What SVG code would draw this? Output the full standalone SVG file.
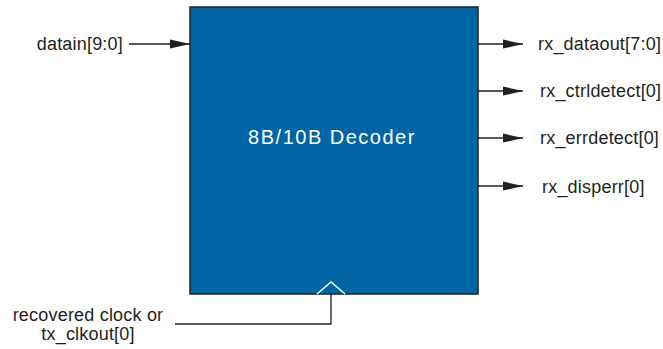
<svg xmlns="http://www.w3.org/2000/svg" width="663" height="349" viewBox="0 0 663 349">
<defs>
<marker id="ah" markerWidth="20" markerHeight="10" refX="20" refY="5" orient="auto" markerUnits="userSpaceOnUse">
<path d="M0,0.5 L20,5 L0,9.5 Z" fill="#231f20"/>
</marker>
</defs>
<style>
.lbl{font-family:"Liberation Sans",Arial,sans-serif;font-size:18px;fill:#231f20;letter-spacing:0.2px}
.wire{stroke:#231f20;stroke-width:1.3;fill:none}
</style>
<rect width="663" height="349" fill="#ffffff"/>
<g id="decoder">
<rect x="190" y="7" width="288" height="287" fill="#0065a4" stroke="#231f20" stroke-width="1.5"/>
<text x="332" y="144" text-anchor="middle" font-family="'Liberation Sans',Arial,sans-serif" font-size="20" letter-spacing="1.5" fill="#ffffff">8B/10B Decoder</text>
<polyline points="317,294 331,282 345,294" fill="none" stroke="#ffffff" stroke-width="1.5"/>
</g>
<g id="labels">
<text class="lbl" x="123" y="50" text-anchor="end">datain[9:0]</text>
<text class="lbl" x="538" y="50">rx_dataout[7:0]</text>
<text class="lbl" x="540" y="97">rx_ctrldetect[0]</text>
<text class="lbl" x="540" y="144">rx_errdetect[0]</text>
<text class="lbl" x="542" y="193">rx_disperr[0]</text>
<text class="lbl" x="88" y="321" text-anchor="middle">recovered clock or</text>
<text class="lbl" x="88" y="340" text-anchor="middle">tx_clkout[0]</text>
</g>
<g id="connectors">
<line class="wire" x1="129" y1="44" x2="190" y2="44" marker-end="url(#ah)"/>
<line class="wire" x1="478" y1="44" x2="523" y2="44" marker-end="url(#ah)"/>
<line class="wire" x1="478" y1="91" x2="523" y2="91" marker-end="url(#ah)"/>
<line class="wire" x1="478" y1="138" x2="523" y2="138" marker-end="url(#ah)"/>
<line class="wire" x1="478" y1="186" x2="523" y2="186" marker-end="url(#ah)"/>
<polyline class="wire" points="175,324 331,324 331,294"/>
</g>
</svg>
